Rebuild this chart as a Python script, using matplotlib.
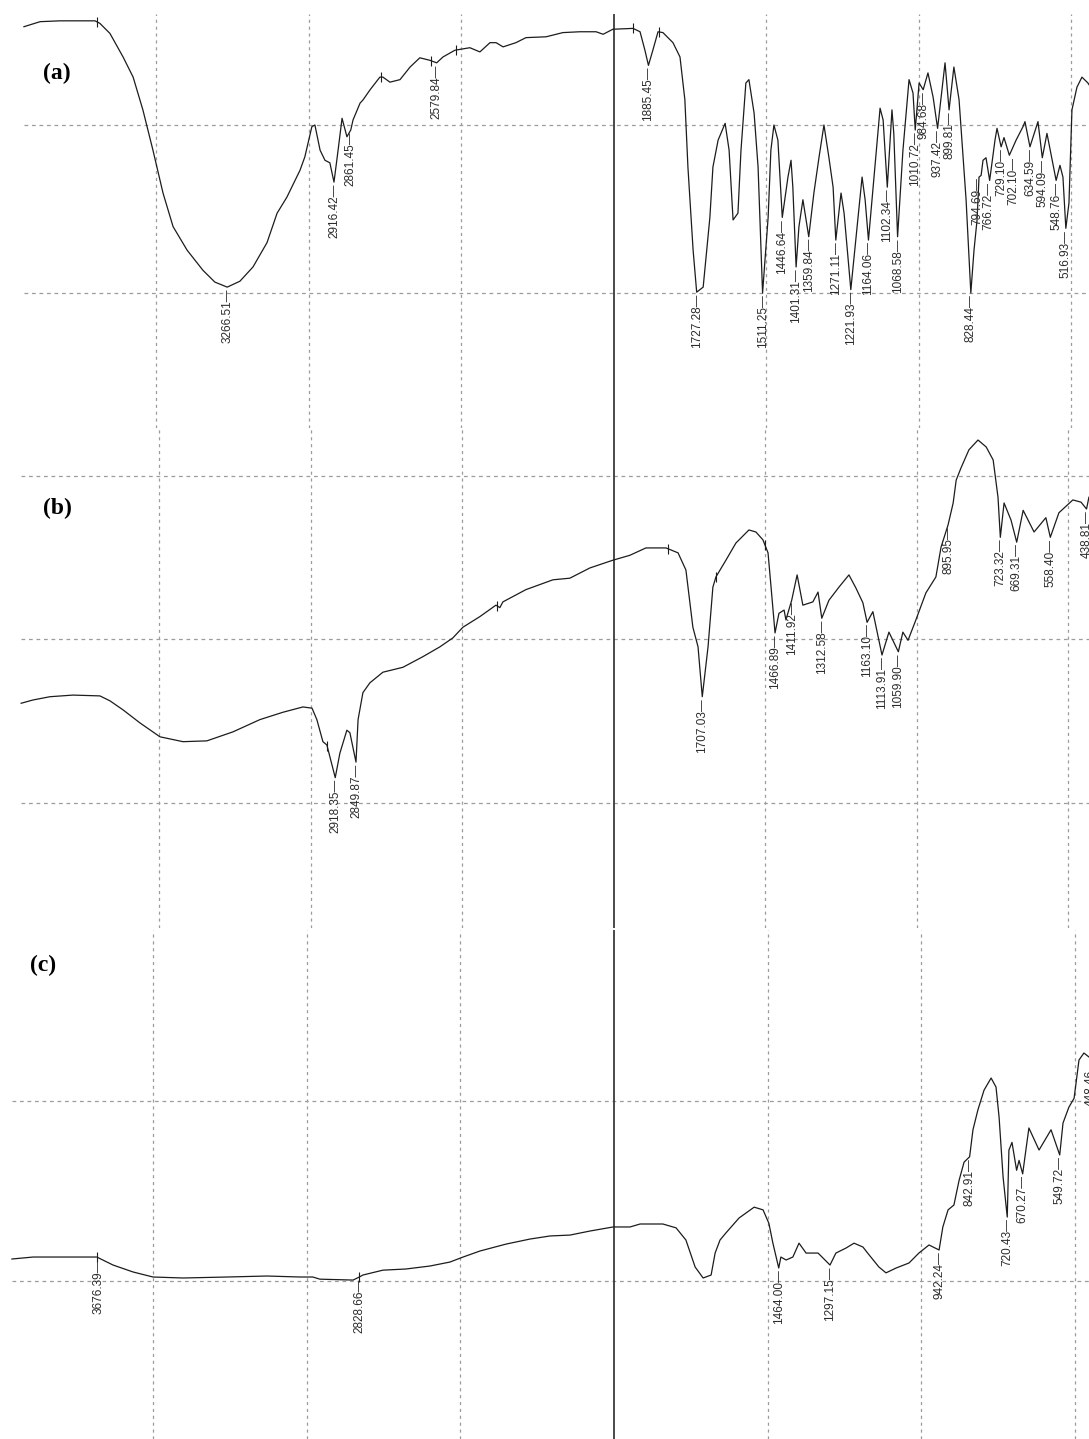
import numpy as np
import matplotlib.pyplot as plt

# ---------------- spectrum (a) ----------------
wn_a = [3933, 3880, 3815, 3700, 3684, 3651, 3608, 3575, 3543, 3510, 3477, 3444, 3398, 3346, 3307,
        3266.51, 3225, 3182, 3136, 3103, 3071, 3028, 3012, 2989, 2979, 2962, 2946, 2930, 2916.42,
        2903, 2890, 2874, 2861.45, 2854, 2831, 2821, 2798, 2766, 2756, 2733, 2700, 2667, 2635,
        2602, 2579.84, 2559, 2520, 2471, 2438, 2405, 2385, 2362, 2320, 2287, 2221, 2166, 2110,
        2057, 2034, 2002, 1936, 1913, 1897, 1885.45, 1871, 1854, 1838, 1805, 1782, 1766, 1756,
        1739, 1727.28, 1706, 1684, 1674, 1657, 1634, 1621, 1608, 1592, 1582, 1566, 1556, 1539,
        1526, 1511.25, 1493, 1484, 1474, 1461, 1446.64, 1428, 1418, 1412, 1401.31, 1392, 1379,
        1359.84, 1343, 1326, 1310, 1294, 1280, 1271.11, 1254, 1244, 1221.93, 1198, 1185, 1175,
        1164.06, 1146, 1126, 1116, 1102.34, 1087, 1081, 1068.58, 1051, 1031, 1018, 1010.72, 998,
        984.68, 969, 952, 937.42, 913, 899.81, 884, 867, 844, 828.44, 818, 808, 801.6, 794.69,
        788.5, 778.7, 766.72, 749.2, 742.6, 729.10, 719.7, 702.10, 680, 657.4, 650.9, 634.59,
        608.3, 594.09, 578.8, 548.76, 536.2, 526.4, 516.93, 506.7, 496.9, 480.5, 464.1, 444.5, 441]
t_a = [71.7, 72.3, 72.4, 72.4, 72.1, 70.9, 68.1, 65.7, 61.8, 57.0, 51.9, 47.9, 45.1, 42.7, 41.3,
       40.7, 41.4, 43.1, 46.0, 49.5, 51.4, 54.6, 56.2, 59.8, 60.0, 57.0, 55.8, 55.5, 53.2,
       57.0, 60.8, 58.6, 59.4, 60.6, 62.6, 63.0, 64.2, 65.7, 65.7, 65.1, 65.4, 66.9, 68.0,
       67.7, 67.4, 68.1, 68.9, 69.2, 68.7, 69.8, 69.8, 69.3, 69.8, 70.4, 70.5, 71.0, 71.1,
       71.1, 70.8, 71.4, 71.5, 71.1, 68.9, 67.1, 68.9, 71.1, 71.0, 69.8, 68.1, 63.0, 55.0,
       45.1, 40.1, 40.7, 49.0, 55.0, 58.2, 60.2, 57.0, 48.7, 49.5, 57.0, 65.0, 65.4, 61.4,
       55.0, 40.0, 49.0, 57.0, 60.0, 58.2, 49.0, 53.8, 55.8, 52.6, 43.1, 47.9, 51.1,
       46.7, 51.9, 56.2, 60.0, 56.2, 52.6, 46.3, 51.9, 49.5, 40.4, 49.0, 53.8, 51.1,
       46.3, 53.8, 62.0, 60.6, 52.6, 61.8, 59.0, 46.7, 57.0, 65.4, 63.8, 59.4, 65.0,
       64.2, 66.2, 63.3, 59.6, 67.4, 61.8, 66.9, 63.0, 51.1, 40.0, 45.1, 48.7, 53.8, 54.0,
       55.8, 56.1, 53.4, 58.2, 59.6, 57.4, 58.5, 56.4, 58.2, 59.8, 60.4, 57.4,
       60.4, 56.1, 59.0, 53.4, 55.2, 53.8, 47.7, 50.7, 61.8, 64.5, 65.7, 65.0, 64.8]
peaks_a = [3266.51, 2916.42, 2861.45, 2579.84, 1885.45, 1727.28, 1511.25, 1446.64, 1401.31,
           1359.84, 1271.11, 1221.93, 1164.06, 1102.34, 1068.58, 1010.72, 984.68, 937.42,
           899.81, 828.44, 794.69, 766.72, 729.10, 702.10, 634.59, 594.09, 548.76, 516.93]
marks_a = [3693, 2762, 2598, 2516, 1936, 1851]

# ---------------- spectrum (b) ----------------
wn_b = [3955, 3916, 3860, 3784, 3695, 3662, 3619, 3563, 3497, 3421, 3342, 3256, 3167, 3091, 3025,
        2995, 2979, 2959, 2946, 2918.35, 2903, 2880, 2870, 2849.87, 2843, 2827, 2804, 2761, 2695,
        2629, 2573, 2530, 2497, 2441, 2388, 2375, 2365, 2289, 2200, 2144, 2078, 2002, 1946, 1893,
        1827, 1787, 1761, 1738, 1721, 1707.03, 1688, 1672, 1662, 1629, 1596, 1553, 1530, 1507,
        1490, 1480, 1466.89, 1454, 1437, 1431, 1411.92, 1394, 1375, 1342, 1325, 1312.58, 1289,
        1256, 1223, 1200, 1177, 1163.10, 1144, 1113.91, 1091, 1059.90, 1045, 1028, 1002, 969,
        936, 919, 895.95, 879, 869, 853, 827, 797, 770, 747, 731, 723.32, 711, 688, 669.31,
        648, 612, 573, 558.40, 530, 484, 457, 438.81, 431]
t_b = [32.2, 32.6, 33.0, 33.2, 33.1, 32.5, 31.4, 29.8, 28.1, 27.5, 27.6, 28.7, 30.2, 31.1, 31.75,
       31.6, 30.2, 27.5, 27.1, 23.1, 26.1, 28.9, 28.6, 25.0, 30.2, 33.5, 34.7, 36.0, 36.6,
       37.9, 39.1, 40.2, 41.5, 42.8, 44.2, 43.9, 44.6, 46.1, 47.3, 47.5, 48.75, 49.7, 50.3, 51.2,
       51.2, 50.6, 48.5, 41.5, 39.1, 33.0, 39.1, 46.4, 47.65, 49.7, 51.8, 53.4, 53.15, 52.2,
       50.6, 46.4, 40.8, 43.2, 43.6, 42.4, 44.8, 47.9, 44.2, 44.6, 45.8, 42.6, 44.8,
       46.4, 47.9, 46.3, 44.5, 42.1, 43.4, 38.1, 40.9, 38.5, 40.9, 39.9, 42.4, 45.7,
       47.65, 51.3, 54.0, 56.7, 59.5, 61.0, 63.2, 64.4, 63.55, 61.96, 57.4, 52.5, 56.7, 54.6, 51.9,
       55.8, 53.15, 54.9, 52.5, 55.5, 57.07, 56.8, 55.96, 57.4]
peaks_b = [2918.35, 2849.87, 1707.03, 1466.89, 1411.92, 1312.58, 1163.10, 1113.91, 1059.90,
           895.95, 723.32, 669.31, 558.40, 438.81]
marks_b = [2945, 2384, 1820, 1662, 1500]

# ---------------- spectrum (c) ----------------
wn_c = [3959, 3890, 3780, 3682, 3676.39, 3630, 3565, 3500, 3402, 3259, 3129, 3022, 2980, 2957,
        2849, 2828.66, 2817, 2752, 2677, 2599, 2534, 2491, 2436, 2351, 2273, 2208, 2143, 2078,
        2003, 1948, 1915, 1841, 1798, 1766, 1736, 1710, 1684, 1671, 1655, 1636, 1593, 1544, 1515,
        1496, 1483, 1464.00, 1457, 1440, 1418, 1398, 1375, 1336, 1297.15, 1278, 1245, 1219, 1190,
        1170, 1138, 1115, 1082, 1040, 1008, 975, 942.24, 930, 913, 894, 877, 861, 842.91, 832,
        816, 796, 773, 757, 747, 734, 720.43, 715, 705, 690, 682, 670.27, 660, 650, 617, 578,
        549.72, 539, 520, 503, 487, 471, 455]
t_c = [22.44, 22.66, 22.66, 22.66, 22.55, 21.77, 21.0, 20.44, 20.33, 20.44, 20.55, 20.44, 20.44, 20.2,
       20.1, 20.44, 20.66, 21.2, 21.33, 21.66, 22.1, 22.66, 23.33, 24.1, 24.66, 25.0, 25.1, 25.55,
       26.0, 26.0, 26.33, 26.33, 25.9, 24.55, 21.55, 20.33, 20.66, 23.1, 24.55, 25.33, 27.0, 28.2, 27.9,
       26.4, 24.2, 21.44, 22.66, 22.33, 22.66, 24.2, 23.1, 23.1, 21.77, 23.1, 23.66, 24.2, 23.77,
       22.9, 21.55, 20.9, 21.44, 22.0, 23.1, 24.0, 23.44, 26.0, 27.9, 28.44, 31.2, 33.2, 33.8, 36.8,
       39.0, 41.2, 42.55, 41.55, 38.2, 31.55, 27.1, 34.55, 35.4, 32.3, 33.4, 31.9, 34.5, 37.0, 34.55, 36.8,
       34.0, 37.55, 39.3, 40.3, 44.55, 45.33, 44.9]
peaks_c = [3676.39, 2828.66, 1464.00, 1297.15, 942.24, 842.91, 720.43, 670.27, 549.72, 448.46]
marks_c = [3682, 2829]

W, H = 1089, 1439
GRID_WN = [3500, 3000, 2500, 1500, 1000, 500]
LINE = '#1c1c1c'
GRID = '#9c9c9c'

# sideways push (points) for labels that sit too close together
NUDGE = {794.69: -3.0, 766.72: -1.0, 729.10: 0.5, 702.10: 2.7}

# pixel frame of each panel: top/bottom edge, x of the 3500 and 500 cm-1 grid lines
panels = [
    dict(name='(a)', wn=wn_a, t=t_a, peaks=peaks_a, marks=marks_a,
         top=0, bottom=428, x3500=156, x500=1071, ylim=(23.93, 74.88), grid_top=73.2,
         rows=[40, 60], tag=(43, 73)),
    dict(name='(b)', wn=wn_b, t=t_b, peaks=peaks_b, marks=marks_b,
         top=428, bottom=928, x3500=159, x500=1068, ylim=(4.71, 65.87), grid_top=65.87,
         rows=[20, 40, 60], tag=(43, 508)),
    dict(name='(c)', wn=wn_c, t=t_c, peaks=peaks_c, marks=marks_c,
         top=928, bottom=1439, x3500=153, x500=1075, ylim=(2.44, 59.22), grid_top=59.0,
         rows=[20, 40], tag=(30, 965)),
]

fig = plt.figure(figsize=(W / 100, H / 100), dpi=100)

for p in panels:
    ax = fig.add_axes([0, 1 - p['bottom'] / H, 1, (p['bottom'] - p['top']) / H])
    scale = 3000 / (p['x500'] - p['x3500'])
    left = 3500 + p['x3500'] * scale
    right = 3500 - (W - p['x3500']) * scale
    ax.set_xlim(left, right)
    ax.set_ylim(*p['ylim'])
    ax.axis('off')

    wn = np.array(p['wn'], dtype=float)
    t = np.array(p['t'], dtype=float)

    # dashed grid
    ax.hlines(p['rows'], wn[0], right, colors=GRID, linewidth=0.9, linestyles=(0, (3, 3)))
    ax.vlines(GRID_WN, p['ylim'][0], p['grid_top'], colors=GRID, linewidth=0.9,
              linestyles=(0, (2.5, 3)))
    # solid marker line at 2000 cm-1
    ax.vlines(2000, p['ylim'][0], p['grid_top'], colors='#2a2a2a', linewidth=1.2)

    ax.plot(wn, t, color=LINE, linewidth=0.9)

    mk = np.array(p['marks'], dtype=float)
    ax.plot(mk, np.interp(mk, wn[::-1], t[::-1]), ls='none', marker='|',
            markersize=7, markeredgewidth=0.8, color=LINE)

    for pk in p['peaks']:
        yv = np.interp(pk, wn[::-1], t[::-1])
        ax.annotate(f'{pk:.2f}\u2014', xy=(pk, yv), xytext=(NUDGE.get(pk, 0), -1),
                    textcoords='offset points', rotation=90, ha='center', va='top',
                    fontsize=8.5, family='Liberation Sans', color='#2b2b2b',
                    annotation_clip=False)

    fig.text(p['tag'][0] / W, 1 - p['tag'][1] / H, p['name'], ha='left', va='center',
             fontsize=17, fontweight='bold', family='Liberation Serif')

fig.savefig('out.png', dpi=100)
